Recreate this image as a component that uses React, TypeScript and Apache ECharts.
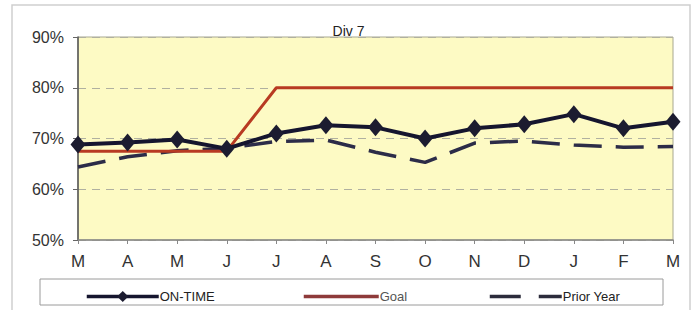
import React, { useEffect, useRef } from "react";
import * as echarts from "echarts";

const months = ["M", "A", "M", "J", "J", "A", "S", "O", "N", "D", "J", "F", "M"];
const onTime = [68.8, 69.2, 69.8, 68.0, 71.0, 72.6, 72.2, 70.0, 72.0, 72.8, 74.8, 72.0, 73.3];
const goal = [67.5, 67.5, 67.5, 67.5, 80, 80, 80, 80, 80, 80, 80, 80, 80];
const priorYear = [64.4, 66.4, 67.6, 68.1, 69.4, 69.7, 67.3, 65.3, 69.1, 69.5, 68.7, 68.3, 68.4];
const yTicks = [50, 60, 70, 80, 90];

export default function App() {
  const ref = useRef<HTMLDivElement>(null);
  useEffect(() => {
    const chart = echarts.init(ref.current!, null, { renderer: "svg" });
    const font = "Liberation Sans, Arial, sans-serif";
    chart.setOption({
      animation: false,
      backgroundColor: "#ffffff",
      title: {
        text: "Div 7",
        left: "center",
        top: 19,
        textStyle: { fontFamily: font, fontSize: 14, fontWeight: "normal", color: "#222" },
      },
      graphic: [
        {
          type: "rect",
          shape: { x: 12, y: 5, width: 678, height: 320 },
          style: { fill: "none", stroke: "#cfcfcf", lineWidth: 1.5 },
          z: -1,
        },
        {
          type: "rect",
          shape: { x: 40, y: 279, width: 623, height: 26 },
          style: { fill: "#ffffff", stroke: "#9a9a9a", lineWidth: 1 },
          z: -1,
        },
      ],
      legend: [
        {
          data: ["ON-TIME"],
          left: 80,
          top: 285,
          itemWidth: 72,
          itemHeight: 14,
          lineStyle: { width: 3.5 },
          textStyle: { fontFamily: font, fontSize: 13, color: "#222", padding: [0, 0, 0, -4] },
        },
        {
          data: ["Goal"],
          left: 297,
          top: 285,
          itemWidth: 75,
          itemHeight: 14,
          itemStyle: { opacity: 0 },
          lineStyle: { color: "#8e3a3a", width: 3.5 },
          textStyle: { fontFamily: font, fontSize: 13, color: "#555", padding: [0, 0, 0, -4] },
        },
        {
          data: ["Prior Year"],
          left: 483,
          top: 285,
          itemWidth: 72,
          itemHeight: 14,
          itemStyle: { opacity: 0 },
          lineStyle: { color: "#2c2c3c", width: 3.5, type: [31, 18] },
          textStyle: { fontFamily: font, fontSize: 13, color: "#222", padding: [0, 0, 0, -4] },
        },
      ],
      grid: { left: 78, right: 24, top: 37, bottom: 70, show: true, backgroundColor: "#fdfac4", borderColor: "#a8a890", borderWidth: 1 },
      xAxis: {
        type: "category",
        data: months,
        boundaryGap: false,
        axisLine: { lineStyle: { color: "#888", width: 1.5 } },
        axisTick: { show: true, length: 4, lineStyle: { color: "#888" } },
        axisLabel: { fontFamily: font, fontSize: 17, color: "#333", margin: 13 },
      },
      yAxis: {
        type: "value",
        min: 50,
        max: 90,
        interval: 10,
        axisLine: { show: true, lineStyle: { color: "#555", width: 1.5 } },
        axisTick: { show: true, length: 5, lineStyle: { color: "#666" } },
        axisLabel: {
          fontFamily: font,
          fontSize: 16,
          color: "#333",
          margin: 14,
          formatter: (v: number) => (yTicks.includes(v) ? v + "%" : ""),
        },
        splitLine: { show: true, lineStyle: { color: "#b0b0a0", type: [8, 6], width: 1 } },
      },
      series: [
        {
          name: "Prior Year",
          type: "line",
          data: priorYear,
          symbol: "none",
          lineStyle: { color: "#2c2c48", width: 3.5, type: [28, 14] },
          itemStyle: { color: "#2c2c48" },
          z: 2,
        },
        {
          name: "Goal",
          type: "line",
          data: goal,
          symbol: "none",
          lineStyle: { color: "#b83a22", width: 3 },
          itemStyle: { color: "#b83a22" },
          z: 3,
        },
        {
          name: "ON-TIME",
          type: "line",
          data: onTime,
          symbol: "diamond",
          symbolSize: [15, 18],
          lineStyle: { color: "#15152e", width: 4 },
          itemStyle: { color: "#1c1c30" },
          z: 4,
        },
      ],
    });
    return () => chart.dispose();
  }, []);
  return (
    <div
      ref={ref}
      style={{ position: "fixed", left: 0, top: 0, width: 697, height: 310 }}
    />
  );
}
